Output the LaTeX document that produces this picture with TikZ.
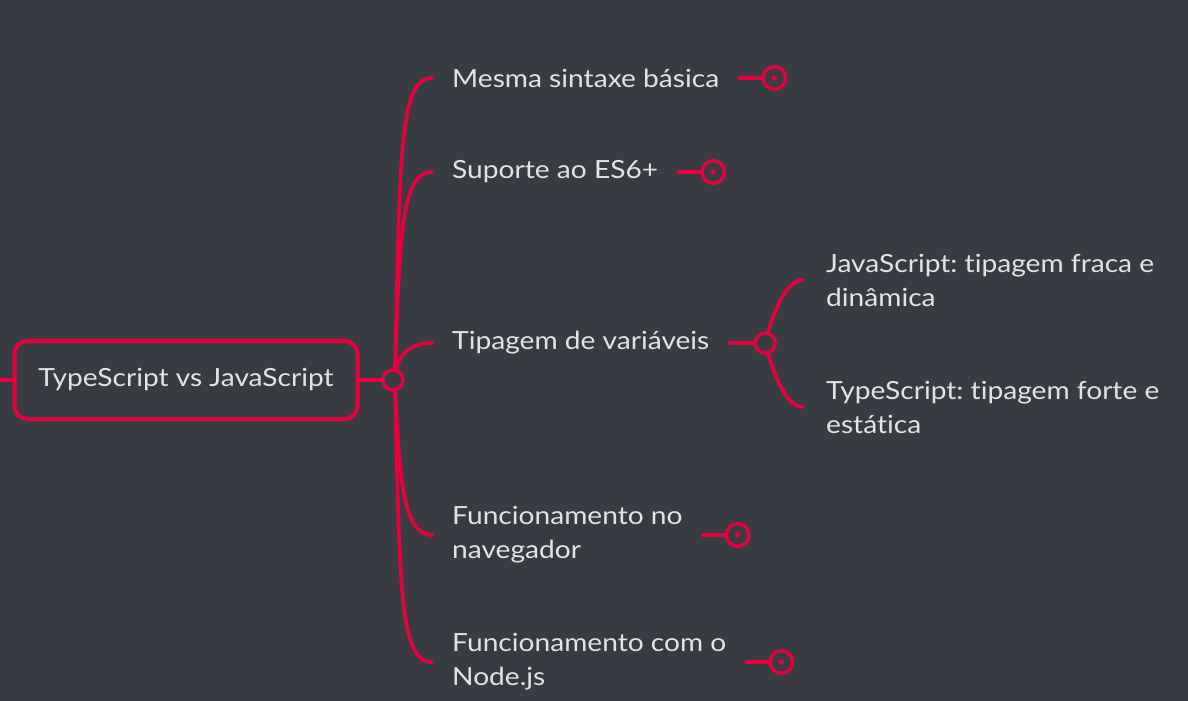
\documentclass[tikz,border=0pt]{standalone}
\usepackage{fontspec}
\setmainfont{Lato}[Ligatures=NoCommon, FakeStretch=1.125]
\usetikzlibrary{positioning,calc}
\definecolor{bg}{RGB}{56,60,66}
\definecolor{mapred}{RGB}{232,0,62}
\definecolor{txt}{RGB}{226,227,229}
\frenchspacing

\begin{document}
\begin{tikzpicture}[
  x=1pt, y=-1pt,
  font=\fontsize{25}{34}\selectfont,
  root/.style={draw=mapred, line width=4pt, rounded corners=13pt, minimum width=343pt, minimum height=78pt, text=txt, inner sep=0pt},
  topic/.style={anchor=west, inner xsep=20pt, inner ysep=0pt, align=left, text=txt},
  hub/.style={circle, draw=mapred, line width=3.3pt, fill=bg, minimum size=20pt, inner sep=0pt},
  fold/.style={hub, minimum size=22.6pt},
  br/.style={draw=mapred, line width=3.6pt, line cap=round}
]
\def\xB{432}\def\xS{803}
\useasboundingbox (0,0) rectangle (1188,701);
\fill[bg] (0,0) rectangle (1188,701);

% ================= ROOT =================
\coordinate (lin) at (0,380);
\node[root] (ts) at (186,380) {TypeScript vs JavaScript};
\node[hub]  (jc) at (393,380) {};
\draw[br, line cap=butt] (lin) -- (ts.west);
\draw[br] (ts.east) -- (jc);

% ================= TOPICS =================
\node[topic] (m1) at (\xB,78)  {Mesma sintaxe básica};
\node[topic] (m2) at (\xB,172) {Suporte ao ES6+};
\node[topic] (m3) at (\xB,343) {Tipagem de variáveis};
\node[topic] (m4) at (\xB,535) {Funcionamento no\\navegador};
\node[topic] (m5) at (\xB,662) {Funcionamento com o\\Node.js};
\draw[br] (jc.80) .. controls +(5,-220) and +(-32,0) .. (m1.west);
\draw[br] (jc.80) .. controls +(5,-126) and +(-32,0) .. (m2.west);
\draw[br] (jc.70) .. controls +(1,-15) and +(-20,0) .. (m3.west);
\draw[br] (jc.-80) .. controls +(5,73) and +(-32,0) .. (m4.west);
\draw[br] (jc.-80) .. controls +(5,200) and +(-32,0) .. (m5.west);
\foreach \i in {1,2,4,5}{
  \node[fold, right=22pt of m\i] (f\i) {};
  \draw[br] (m\i.east) -- (f\i);
  \fill[mapred] (f\i) circle (2.7);
}

% ================= SUBTOPICS =================
\node[hub, right=24pt of m3] (jt) {};
\draw[br] (m3.east) -- (jt);
\node[topic, inner xsep=23pt] (s1) at (\xS,280) {JavaScript: tipagem fraca e\\dinâmica};
\node[topic, inner xsep=23pt] (s2) at (\xS,407) {TypeScript: tipagem forte e\\estática};
\draw[br] (jt.75) .. controls +(6,-20) and +(-17,0) .. (s1.west);
\draw[br] (jt.-75) .. controls +(6,20) and +(-17,0) .. (s2.west);

\end{tikzpicture}
\end{document}
